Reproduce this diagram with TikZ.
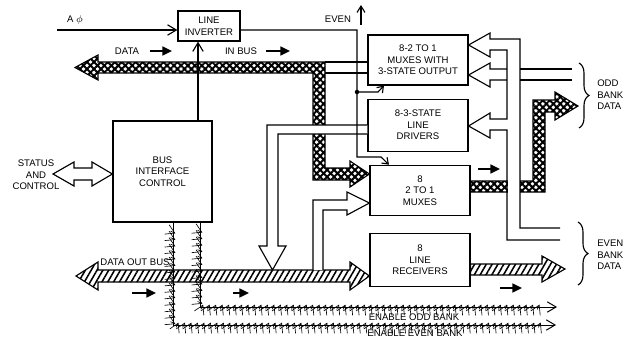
\documentclass[tikz,border=0pt]{standalone}
\usepackage{fontspec}
\setmainfont{Liberation Sans}
\usetikzlibrary{arrows.meta,positioning,patterns.meta,decorations.pathreplacing,decorations.markings}

\newcommand{\lblfont}{\fontsize{6.8}{8.2}\selectfont}

\tikzset{
  unit/.style={
    draw,
    line width=0.8pt,
    align=center,
    minimum width=25mm,
    minimum height=12.5mm,
    inner sep=1pt,
    font=\lblfont
  },
  lbl/.style={font=\lblfont, align=center, inner sep=0pt},
  wire/.style={line width=0.8pt},
  openflow/.style={wire, -{Straight Barb[length=2.2mm,width=2.6mm]}},
  smallflow/.style={wire, -{Straight Barb[length=1.4mm,width=2mm]}},
  dirarrow/.style={line width=1.4pt, -{Triangle[length=2.4mm,width=2.2mm]}},
  meshbus/.style={draw, line width=0.8pt,
    pattern={Hatch[angle=45,distance=3.5pt,line width=1.4pt]}},
  linebus/.style={draw, line width=0.8pt,
    pattern={Lines[angle=60,distance=3.6pt,line width=1.1pt]}},
  whitebus/.style={draw, line width=0.8pt, fill=white},
  tickline/.style={line width=0.7pt, postaction={decorate,
    decoration={markings, mark=between positions 0.02 and 0.97 step 4.6pt with
      {\draw[line width=0.45pt] (-0.8pt,-1.7pt) -- (0.8pt,1.7pt);}}}},
  bankbrace/.style={wire, decorate, decoration={brace, amplitude=2.5mm}}
}

\begin{document}
\begin{tikzpicture}[x=0.025cm, y=-0.025cm]
  \useasboundingbox (0,0) rectangle (641,337);

  % blocks
  \node[unit, minimum width=15.5mm, minimum height=7.5mm] (inv) at (209,26) {LINE\\INVERTER};
  \node[unit, minimum width=24.75mm, minimum height=25.25mm] (bic) at (162.5,171.5) {BUS\\INTERFACE\\CONTROL};
  \node[unit] (mux3) at (418,60) {8-2 TO 1\\MUXES WITH\\3-STATE OUTPUT};
  \node[unit, minimum height=13mm, below=3.25mm of mux3] (drv) {8-3-STATE\\LINE\\DRIVERS};
  \node[unit, below=3.25mm of drv, xshift=0.5mm] (mux) {8\\2 TO 1\\MUXES};
  \node[unit, minimum height=13.25mm, below=4.25mm of mux] (rcv) {8\\LINE\\RECEIVERS};

  % in bus
  \path[meshbus] (75,67.5) -- (98,55) -- (98,62) -- (325,62) -- (325,168) -- (350,168)
    -- (350,161) -- (mux.west |- 0,174) -- (350,187) -- (350,180) -- (313,180)
    -- (313,73) -- (98,73) -- (98,80) -- cycle;
  \draw[wire] (325,62) -- (mux3.west |- 0,62) (325,73) -- (mux3.west |- 0,73);
  \path[whitebus] (drv.west |- 0,125) -- (267,125) -- (267,246) -- (259,246) -- (272.5,270)
    -- (286,246) -- (278,246) -- (278,134) -- (drv.west |- 0,134);

  % data out bus
  \path[linebus] (76,276) -- (98,262) -- (98,270) -- (350,270) -- (350,262)
    -- (rcv.west |- 0,276) -- (350,290) -- (350,282) -- (98,282) -- (98,290) -- cycle;
  \path[whitebus] (313,270) -- (313,200) -- (347,200) -- (347,192) -- (mux.west |- 0,203)
    -- (347,215) -- (347,210) -- (323,210) -- (323,270);

  % control lines
  \coordinate (ain) at (57,30);
  \coordinate (ctl) at (198,0);
  \coordinate (evn) at (357,30);
  \draw[openflow] (ain) -- (ain -| inv.west);
  \draw[openflow] (bic.north -| ctl) -- (inv.south -| ctl);
  \draw[smallflow] (evn -| inv.east) -- (evn) -- (357,157) -- (381,157) -- (mux.north -| 389,0);
  \fill (357,92) circle (1.6pt);
  \draw[smallflow] (357,92) -- (378,92) -- (mux3.south -| 384,0);
  \draw[wire, -{Straight Barb[length=1.6mm,width=2mm]}] (361,25) -- (361,5);

  % enables
  \coordinate (enodd) at (200,307);
  \coordinate (eneven) at (173,325);
  \coordinate (oddend) at (557,307);
  \coordinate (evenend) at (556,325);
  \draw[tickline, -{Straight Barb[length=2.2mm,width=2.6mm]}] (bic.south -| enodd) -- (enodd) -- (oddend);
  \draw[tickline, -{Straight Barb[length=2.2mm,width=2.6mm]}] (bic.south -| eneven) -- (eneven) -- (evenend);

  % bank side
  \path[meshbus] (mux.east |- 0,181) -- (533,181) -- (533,100) -- (555,100) -- (555,92)
    -- (578,106) -- (555,120) -- (555,112) -- (545,112) -- (545,192) -- (mux.east |- 0,192) -- cycle;
  \fill[white] (507.5,179.5) rectangle (519.5,193.5);
  \path[linebus] (rcv.east |- 0,264) -- (542,264) -- (542,256) -- (565,269) -- (542,282)
    -- (542,275) -- (rcv.east |- 0,275) -- cycle;
  \draw[wire] (560,228) -- (520,228) -- (520,39) -- (490,39) -- (490,33) -- (mux3.east |- 0,45)
    -- (490,57) -- (490,50) -- (507,50) -- (507,119) -- (490,119) -- (490,113)
    -- (drv.east |- 0,126) -- (490,138) -- (490,130) -- (507,130) -- (507,240) -- (560,240);
  \draw[wire] (572,69) -- (520,69) (572,80) -- (520,80);
  \draw[wire] (507,69) -- (490,69) -- (490,63) -- (mux3.east |- 0,75) -- (490,87) -- (490,80) -- (507,80);

  % status and control
  \path[whitebus] (53,174) -- (74,162) -- (74,168) -- (92,168) -- (92,162) -- (bic.west |- 0,174)
    -- (92,186) -- (92,180) -- (74,180) -- (74,186) -- cycle;

  % direction arrows
  \draw[dirarrow] (150,51) -- (172,51);
  \draw[dirarrow] (266,51) -- (290,51);
  \draw[dirarrow] (478,169) -- (500,169);
  \draw[dirarrow] (132,293) -- (156,293);
  \draw[dirarrow] (233,293) -- (249,293);
  \draw[dirarrow] (500,288) -- (522,288);

  \draw[bankbrace] (579,63) -- (579,128);
  \draw[bankbrace] (578,222) -- (578,285);

  % texts
  \node[lbl] (aphi) at (75,20) {A $\phi$};
  \node[lbl] (even) at (338,19) {EVEN};
  \node[lbl] (data) at (127,51) {DATA};
  \node[lbl] (inbus) at (241,51) {IN BUS};
  \node[lbl] (outbus) at (135,262) {DATA OUT BUS};
  \node[lbl] (stat) at (36,175) {STATUS\\AND\\CONTROL};
  \node[lbl, align=left, anchor=west] (odd) at (597,95) {ODD\\BANK\\DATA};
  \node[lbl, align=left, anchor=west] (evb) at (597,255) {EVEN\\BANK\\DATA};
  \node[lbl] (enoddtxt) at (414,317) {ENABLE ODD BANK};
  \node[lbl] (eneventxt) at (415,333) {ENABLE EVEN BANK};
\end{tikzpicture}
\end{document}
